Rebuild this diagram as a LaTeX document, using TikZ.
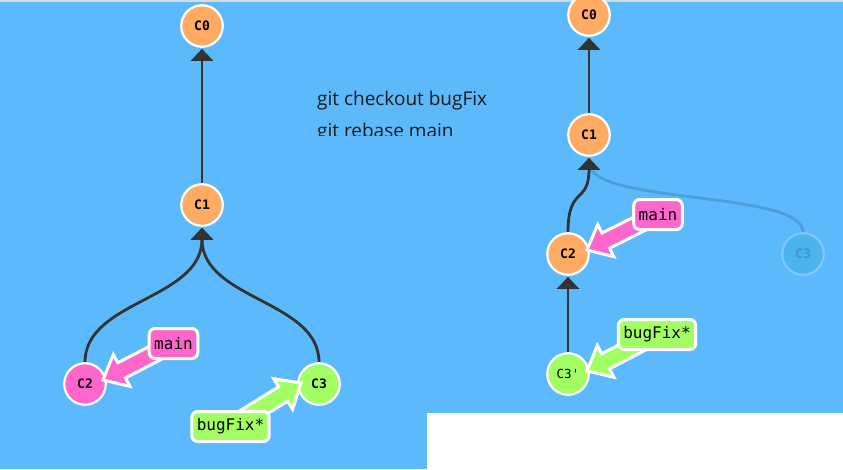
\documentclass[tikz,border=0pt]{standalone}
\usepackage{fontspec}
\setmainfont{Open Sans}
\newfontfamily\monofont{DejaVu Sans Mono}
\usetikzlibrary{arrows.meta,calc}
\definecolor{bgblue}{HTML}{5CBAFC}
\definecolor{corange}{HTML}{FFAB63}
\definecolor{cpink}{HTML}{FF66CC}
\definecolor{cgreen}{HTML}{A1FF64}
\definecolor{edgec}{HTML}{333333}
\definecolor{fadefill}{HTML}{4DB3EC}
\definecolor{fadestroke}{HTML}{7EC8F8}
\definecolor{fadetext}{HTML}{3F97D0}
\definecolor{fadeedge}{HTML}{4C9FD8}
\definecolor{topgrey}{HTML}{D3DAE2}
\pgfdeclarelayer{bglayer}
\pgfdeclarelayer{edges}
\pgfdeclarelayer{front}
\pgfsetlayers{bglayer,edges,main,front}
\tikzset{
  commit/.style={circle, draw=white, line width=2.2pt, minimum size=41.5pt, inner sep=0pt,
    font=\monofont\bfseries\fontsize{13}{13}\selectfont},
  branchlabel/.style={rounded corners=6pt, draw=white, line width=3pt, inner xsep=5pt,
    inner ysep=0pt, minimum height=30pt, font=\monofont\fontsize{16}{16}\selectfont},
  link/.style={draw=edgec, line width=2.8pt, shorten >=1pt, -{Triangle[width=22pt,length=12pt]}},
  fatarrowstyle/.style={draw=white, line width=3pt, line join=miter},
}
\newcommand\fatarrow[3]{%
  \coordinate (fa-b) at ($(#2)!21pt!(#1)$);
  \filldraw[fatarrowstyle, fill=#3]
    ($(#1)!8.5pt!90:(#2)$) -- ($(fa-b)!8.5pt!90:(#2)$) -- ($(fa-b)!18pt!90:(#2)$) -- (#2)
    -- ($(fa-b)!18pt!-90:(#2)$) -- ($(fa-b)!8.5pt!-90:(#2)$) -- ($(#1)!8.5pt!-90:(#2)$) -- cycle;
}
\begin{document}
\begin{tikzpicture}[x=1pt,y=-1pt]
\useasboundingbox (0,0) rectangle (843,469);
\begin{pgfonlayer}{bglayer}
  \fill[bgblue] (0,0) rectangle (843,469);
  \fill[white] (427,413) rectangle (843,469);
  \fill[topgrey] (0,0) rectangle (843,2);
\end{pgfonlayer}

% left tree
\node[commit, fill=corange] (c0) at (202,26) {C0};
\node[commit, fill=corange] (c1) at (202,205) {C1};
\node[commit, fill=cpink] (c2) at (85,384) {C2};
\node[commit, fill=cgreen] (c3) at (319,384) {C3};

% right tree
\node[commit, fill=corange] (rc0) at (589,15) {C0};
\node[commit, fill=corange] (rc1) at (589,135) {C1};
\node[commit, fill=corange] (rc2) at (568,254) {C2};
\node[commit, fill=cgreen, font=\monofont\fontsize{12.5}{12.5}\selectfont] (rc3) at (568,374) {C3'};
\node[commit, fill=fadefill, draw=fadestroke, text=fadetext] (fc3) at (803,254) {C3};

\begin{pgfonlayer}{edges}
  \draw[link] (c1) -- (c0);
  \draw[link] (c2.north) .. controls (85,300) and (202,300) .. (c1.south);
  \draw[link] (c3.north) .. controls (319,300) and (202,300) .. (c1.south);
  \draw[fadeedge, line width=2.8pt, shorten >=6pt] (fc3.north) .. controls (803,190) and (589,205) .. (rc1.south);
  \draw[link] (rc1) -- (rc0);
  \draw[link] (rc2.north) .. controls (568,185) and (589,205) .. (rc1.south);
  \draw[link] (rc3) -- (rc2);
\end{pgfonlayer}

\begin{pgfonlayer}{front}
  \node[branchlabel, fill=cpink] (mainL) at (173.5,343.5) {main};
  \node[branchlabel, fill=cgreen] (bugL) at (230.5,426.5) {bugFix*};
  \node[branchlabel, fill=cpink] (rmainL) at (658,214.5) {main};
  \node[branchlabel, fill=cgreen] (rbugL) at (657,334.5) {bugFix*};
\end{pgfonlayer}

\coordinate (tipmain) at (103,380);
\coordinate (tipbug) at (301,383);
\coordinate (tiprmain) at (587,250);
\coordinate (tiprbug) at (587,371);
\fatarrow{mainL}{tipmain}{cpink}
\fatarrow{bugL}{tipbug}{cgreen}
\fatarrow{rmainL}{tiprmain}{cpink}
\fatarrow{rbugL}{tiprbug}{cgreen}

\begin{scope}
  \clip (300,70) rectangle (540,135);
  \node[anchor=base west, inner sep=0pt, font=\fontsize{19}{19}\selectfont, text=black!90] (cmd1) at (317,105) {git checkout bugFix};
  \node[anchor=base west, inner sep=0pt, font=\fontsize{19}{19}\selectfont, text=black!90] (cmd2) at (317,137) {git rebase main};
\end{scope}
\end{tikzpicture}
\end{document}
